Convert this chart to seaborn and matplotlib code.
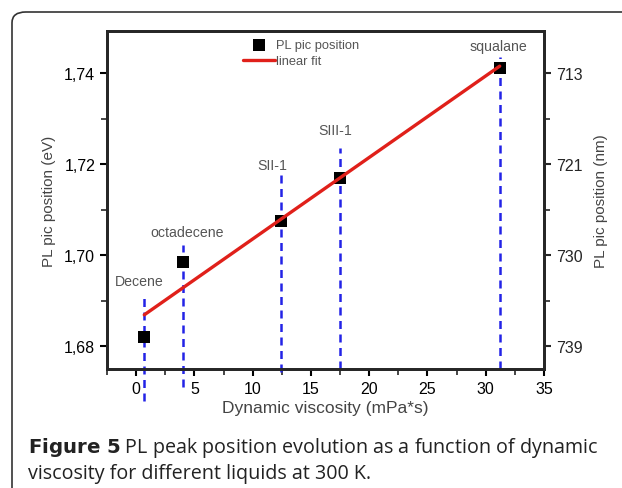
import numpy as np
import pandas as pd
import seaborn as sns
import matplotlib.pyplot as plt
from matplotlib.patches import FancyBboxPatch
from matplotlib.ticker import FuncFormatter, MultipleLocator

# data
liquids = ["Decene", "octadecene", "SII-1", "SIII-1", "squalane"]
viscosity = [0.7, 4.0, 12.4, 17.5, 31.2]
peak_ev = [1.682, 1.6985, 1.7075, 1.717, 1.741]
# dashed marker lines (top / bottom in eV)
vline_top = [1.6908, 1.7022, 1.7181, 1.7236, 1.7435]
vline_bottom = [1.6679, 1.671, 1.6743, 1.675, 1.675]
# label positions
label_x = [0.28, 4.37, 11.7, 17.06, 31.1]
label_y = [1.6943, 1.705, 1.7199, 1.7274, 1.746]
# right axis labels (nm)
nm_ticks = [1.68, 1.70, 1.72, 1.74]
nm_labels = ["739", "730", "721", "713"]

df = pd.DataFrame({"visc": viscosity, "ev": peak_ev, "liquid": liquids})
slope, icpt = np.polyfit(df["visc"], df["ev"], 1)
fit = pd.DataFrame({"visc": [viscosity[0], viscosity[-1]]})
fit["ev"] = icpt + slope * fit["visc"]

sns.set_style("ticks")
plt.rcParams["font.family"] = ["Liberation Sans", "DejaVu Sans"]

fig = plt.figure(figsize=(6.22, 4.89), dpi=100)
ax = fig.add_axes([0.172, 0.2434, 0.7026, 0.691])

# dashed vertical lines
for x, t, b in zip(viscosity, vline_top, vline_bottom):
    ax.plot([x, x], [b, t], color="#2323e6", ls=(0, (3.2, 2.2)), lw=1.8,
            clip_on=False, zorder=1)

sns.lineplot(data=fit, x="visc", y="ev", color="#e0201a", lw=2.4, ax=ax,
             label="linear fit", zorder=3)
sns.scatterplot(data=df, x="visc", y="ev", marker="s", s=80, color="black",
                linewidth=0, ax=ax, label="PL pic position", zorder=2)

for name, x, y in zip(liquids, label_x, label_y):
    ax.text(x, y, name, ha="center", va="center", fontsize=10.2, color="#555555")

ax.set_xlim(-2.5, 35)
ax.set_ylim(1.675, 1.7492)
ax.xaxis.set_major_locator(MultipleLocator(5))
ax.xaxis.set_minor_locator(MultipleLocator(2.5))
ax.yaxis.set_major_locator(MultipleLocator(0.02))
ax.yaxis.set_minor_locator(MultipleLocator(0.01))
ax.yaxis.set_major_formatter(FuncFormatter(lambda v, p: f"{v:.2f}".replace(".", ",")))
ax.set_xlabel("Dynamic viscosity (mPa*s)", fontsize=12.5, color="#444444", labelpad=3)
ax.set_ylabel("PL pic position (eV)", fontsize=11, color="#444444", labelpad=6)
ax.tick_params(which="major", length=5, width=1.5, labelsize=11.5, colors="black")
ax.tick_params(which="minor", length=4, width=1.2)
for s in ax.spines.values():
    s.set_linewidth(2)
    s.set_visible(True)

ax2 = ax.twinx()
ax2.set_ylim(ax.get_ylim())
ax2.set_yticks(nm_ticks)
ax2.set_yticklabels(nm_labels)
ax2.yaxis.set_minor_locator(MultipleLocator(0.01))
ax2.tick_params(which="major", length=5, width=1.5, labelsize=11.5)
ax2.tick_params(which="minor", length=4, width=1.2)
ax2.set_ylabel("PL pic position (nm)", fontsize=11, color="#444444", labelpad=8)
for s in ax2.spines.values():
    s.set_linewidth(2)

h, l = ax.get_legend_handles_labels()
ax.legend(h[::-1], l[::-1], loc="upper left", bbox_to_anchor=(0.311, 0.977),
          frameon=False, fontsize=9.3, handlelength=2.5, handletextpad=0.1,
          labelspacing=0.35, borderpad=0, borderaxespad=0, labelcolor="#555555",
          markerscale=0.9)

# caption box and text
frame = FancyBboxPatch((12 / 622, -0.05), 1.2, 1.05 - 13 / 489,
                       boxstyle="round,pad=0,rounding_size=0.022",
                       transform=fig.transFigure, fill=False, lw=1.2, ec="#333333")
fig.patches.append(frame)
fig.text(28 / 622, 1 - 453 / 489,
         r"$\bf{Figure\ 5}$ PL peak position evolution as a function of dynamic",
         fontsize=14.2, family="Open Sans", color="#222222", va="baseline")
fig.text(28 / 622, 1 - 479 / 489, "viscosity for different liquids at 300 K.",
         fontsize=14.2, family="Open Sans", color="#222222", va="baseline")

fig.savefig("out.png", dpi=100)
